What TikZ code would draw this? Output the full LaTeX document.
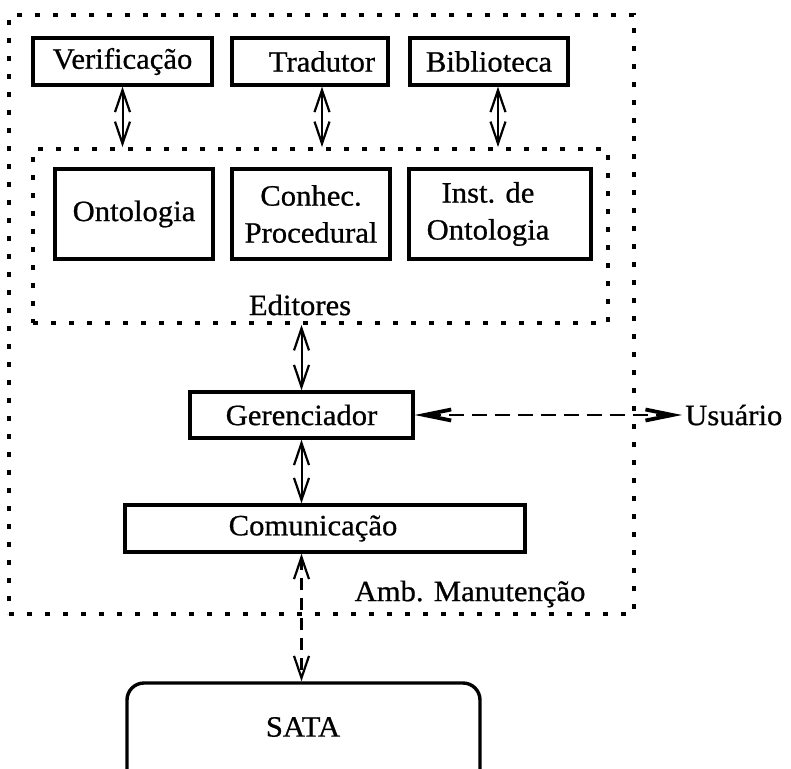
\documentclass[tikz,border=0pt]{standalone}
\usepackage{fontspec}
\setmainfont{Liberation Serif}[FakeStretch=1.04,FakeBold=0.7]
\usetikzlibrary{arrows.meta}
\begin{document}
\begin{tikzpicture}[x=1pt,y=-1pt,
  openv/.tip={Straight Barb[length=22pt,width=15pt,line width=2.2pt]},
  boldv/.tip={Straight Barb[length=27pt,width=11pt,line width=3.8pt]},
  box/.style={draw, line width=3.4pt, inner sep=0pt, font=\fontsize{29.5}{37}\selectfont, align=center},
  txt/.style={inner sep=0pt, font=\fontsize{29.5}{37}\selectfont, align=center},
  frame/.style={draw, line width=4pt, dash pattern=on 5pt off 13pt, inner sep=0pt},
  link/.style={line width=2pt, openv-openv},
  dlink/.style={line width=2.2pt, dash pattern=on 12pt off 8pt, openv-openv},
  ulink/.style={line width=2.8pt, dash pattern=on 15pt off 8pt, boldv-boldv}]
\useasboundingbox (0,0) rectangle (791,768);

% enclosing areas
\node[frame, minimum width=625pt, minimum height=599pt] (amb) at (321.5,314.5) {};
\node[frame, minimum width=575pt, minimum height=174pt] (edit) at (320.5,236) {};
\node[txt] (ambtxt) at (470,594) {Amb. Manutenção};
\node[txt] (edittxt) at (300,305) {Editores};

% top row
\node[box, minimum width=179pt, minimum height=47pt] (verif) at (122.5,61.5) {Verificação};
\node[box, minimum width=156pt, minimum height=47pt] (trad) at (310,61.5) {};
\node[txt] (tradtxt) at (322,61.5) {Tradutor};
\node[box, minimum width=158pt, minimum height=47pt] (bib) at (489,61.5) {Biblioteca};

% editors
\node[box, minimum width=158pt, minimum height=90pt] (onto) at (134,214) {Ontologia};
\node[box, minimum width=158pt, minimum height=90pt] (proc) at (311,214) {Conhec.\\Procedural};
\node[box, minimum width=182pt, minimum height=90pt] (inst) at (500,214) {};
\node[txt] (insttxt) at (488,214) {Inst. de\\Ontologia};

% manager and communication
\node[box, minimum width=223pt, minimum height=46pt] (ger) at (301.5,415) {Gerenciador};
\node[box, minimum width=400pt, minimum height=47pt] (com) at (325,528.5) {};
\node[txt] (comtxt) at (313,528.5) {Comunicação};

% external system and user
\node[box, rounded corners=17pt, minimum width=353pt, minimum height=107pt] (sata) at (303.5,736.5) {};
\node[txt] (satatxt) at (303,727) {SATA};
\node[txt, anchor=west] (usr) at (685,415) {Usuário};

% connectors
\draw[link] (verif.south) -- (verif.south |- edit.north);
\draw[link] (tradtxt.center |- trad.south) -- (tradtxt.center |- edit.north);
\draw[link] ([xshift=9pt]bib.south) -- ([xshift=9pt]bib.south |- edit.north);
\draw[link] (ger.north |- edit.south) -- (ger.north);
\draw[link] (ger.south) -- (ger.south |- com.north);
\draw[dlink] (ger.south |- com.south) -- (ger.south |- sata.north);
\draw[ulink] (ger.east) -- ([xshift=-3pt]usr.west);
\end{tikzpicture}
\end{document}
